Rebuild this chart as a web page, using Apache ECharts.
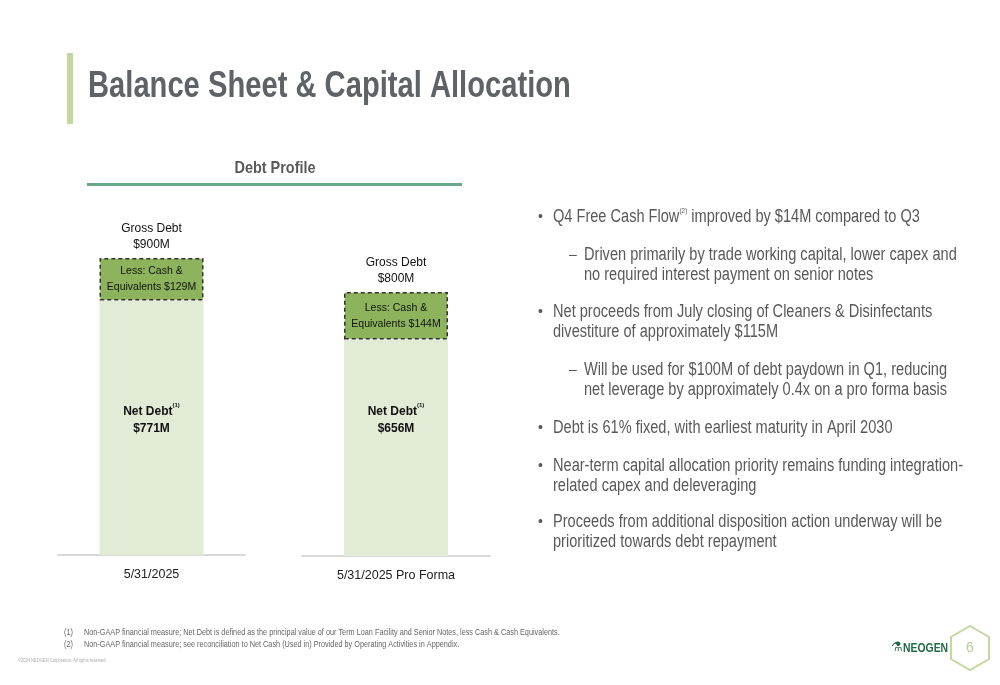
<!DOCTYPE html>
<html>
<head>
<meta charset="utf-8">
<script src="https://cdn.jsdelivr.net/npm/echarts@6/dist/echarts.min.js"></script>
<style>
html,body{margin:0;padding:0;background:#fff;}
#c{width:1000px;height:685px;}
</style>
</head>
<body>
<div id="c"></div>
<script>
var categories = ['5/31/2025', '5/31/2025 Pro Forma'];
var grossDebt = [900, 800];
var cashEquivalents = [129, 144];
var netDebt = [771, 656];

var FONT = "'Liberation Sans',Arial,sans-serif";
var TEXT = '#595959';
var SX = 0.81;

var chart = echarts.init(document.getElementById('c'), null, {renderer: 'canvas'});

function grid(i) {
  return i === 0
    ? {left: 58, width: 187, top: 225, height: 330}
    : {left: 302, width: 188, top: 226, height: 330};
}

var xAxes = [], yAxes = [], series = [];
categories.forEach(function (cat, i) {
  xAxes.push({
    type: 'category', gridIndex: i, data: [cat],
    axisLine: {show: true, lineStyle: {color: '#d9d9d9', width: 2}},
    axisTick: {show: false},
    axisLabel: {color: '#222', fontSize: 12.5, fontFamily: FONT, margin: 13}
  });
  yAxes.push({type: 'value', gridIndex: i, min: 0, max: 1000, show: false, splitLine: {show: false}});
  series.push({
    type: 'bar', xAxisIndex: i, yAxisIndex: i, stack: 's' + i, barWidth: 104,
    data: [netDebt[i]],
    itemStyle: {color: '#e2ebd6'},
    label: {
      show: true, position: 'inside', offset: [0, i === 0 ? -8 : -28], fontFamily: FONT,
      formatter: function () { return '{b|Net Debt}{s|(1)}\n{b|$' + netDebt[i] + 'M}'; },
      rich: {
        b: {fontSize: 12, fontWeight: 'bold', color: '#111', fontFamily: FONT, lineHeight: 17},
        s: {fontSize: 6, fontWeight: 'bold', color: '#111', fontFamily: FONT, verticalAlign: 'top', lineHeight: 17, padding: [0, 0, 6, 0]}
      }
    }
  });
  series.push({
    type: 'bar', xAxisIndex: i, yAxisIndex: i, stack: 's' + i, barWidth: 104,
    data: [cashEquivalents[i]],
    itemStyle: {color: '#8db35c', borderColor: '#333', borderWidth: 1.5, borderType: [4, 3]},
    label: {
      show: true, position: 'inside', fontSize: 10.5, lineHeight: 16, color: '#111', fontFamily: FONT,
      formatter: function () { return 'Less: Cash &\nEquivalents $' + cashEquivalents[i] + 'M'; }
    }
  });
  series.push({
    type: 'bar', xAxisIndex: i, yAxisIndex: i, stack: 's' + i, barWidth: 104,
    data: [0], itemStyle: {color: 'transparent'},
    label: {
      show: true, position: 'top', distance: 5, fontSize: 12, lineHeight: 16, color: '#111', fontFamily: FONT,
      formatter: function () { return 'Gross Debt\n$' + grossDebt[i] + 'M'; }
    }
  });
});

var bullets = [
  {x: 553, y: 217, bullet: '•', text: 'Q4 Free Cash Flow{s|(2)} improved by $14M compared to Q3'},
  {x: 584, y: 255, bullet: '–', text: 'Driven primarily by trade working capital, lower capex and\nno required interest payment on senior notes'},
  {x: 553, y: 312, bullet: '•', text: 'Net proceeds from July closing of Cleaners & Disinfectants\ndivestiture of approximately $115M'},
  {x: 584, y: 370, bullet: '–', text: 'Will be used for $100M of debt paydown in Q1, reducing\nnet leverage by approximately 0.4x on a pro forma basis'},
  {x: 553, y: 428, bullet: '•', text: 'Debt is 61% fixed, with earliest maturity in April 2030'},
  {x: 553, y: 466, bullet: '•', text: 'Near-term capital allocation priority remains funding integration-\nrelated capex and deleveraging'},
  {x: 553, y: 522, bullet: '•', text: 'Proceeds from additional disposition action underway will be\nprioritized towards debt repayment'}
];

var graphics = [
  {type: 'rect', shape: {x: 67, y: 53, width: 6, height: 71}, style: {fill: '#c3d89e'}},
  {type: 'text', x: 88, y: 87, scaleX: 0.81, style: {text: 'Balance Sheet & Capital Allocation', font: 'bold 36px ' + FONT, fill: '#5f6368', verticalAlign: 'middle'}},
  {type: 'text', x: 275, y: 168, scaleX: 0.85, style: {text: 'Debt Profile', font: 'bold 17px ' + FONT, fill: TEXT, align: 'center', verticalAlign: 'middle'}},
  {type: 'rect', shape: {x: 87, y: 183, width: 375, height: 3}, style: {fill: '#6aa88a'}},
  {type: 'text', x: 64, y: 633, scaleX: SX, style: {text: '(1)', font: '9px ' + FONT, fill: '#666', verticalAlign: 'middle'}},
  {type: 'text', x: 84, y: 633, scaleX: SX, style: {text: 'Non-GAAP financial measure; Net Debt is defined as the principal value of our Term Loan Facility and Senior Notes, less Cash & Cash Equivalents.', font: '9px ' + FONT, fill: '#666', verticalAlign: 'middle'}},
  {type: 'text', x: 64, y: 645, scaleX: SX, style: {text: '(2)', font: '9px ' + FONT, fill: '#666', verticalAlign: 'middle'}},
  {type: 'text', x: 84, y: 645, scaleX: SX, style: {text: 'Non-GAAP financial measure; see reconciliation to Net Cash (Used in) Provided by Operating Activities in Appendix.', font: '9px ' + FONT, fill: '#666', verticalAlign: 'middle'}},
  {type: 'text', x: 18, y: 661, scaleX: SX, style: {text: '©2024 NEOGEN Corporation. All rights reserved.', font: '5px ' + FONT, fill: '#aaa', verticalAlign: 'middle'}},
  {type: 'text', x: 903, y: 648, scaleX: 0.8, style: {text: 'NEOGEN', font: 'bold 13px ' + FONT, fill: '#1f6b45', verticalAlign: 'middle'}},
  {type: 'text', x: 903, y: 647, style: {text: '⚗', font: '13px ' + FONT, fill: '#1f6b45', align: 'right', verticalAlign: 'middle'}},
  {type: 'polygon', shape: {points: [[970, 626], [989, 637], [989, 659], [970, 670], [951, 659], [951, 637]]}, style: {fill: 'none', stroke: '#c3d89e', lineWidth: 2}},
  {type: 'text', x: 970, y: 648, style: {text: '6', font: '14px ' + FONT, fill: '#b5cf8f', align: 'center', verticalAlign: 'middle'}}
];

bullets.forEach(function (b) {
  graphics.push({type: 'text', x: b.x - 15, y: b.y, style: {text: b.bullet, font: '14px ' + FONT, fill: TEXT, verticalAlign: 'middle'}});
  graphics.push({type: 'text', x: b.x, y: b.y - 10, scaleX: SX, style: {
    text: b.text, font: '18px ' + FONT, fill: TEXT, lineHeight: 20,
    rich: {s: {fontSize: 8, fill: TEXT, verticalAlign: 'top', lineHeight: 20, fontFamily: FONT}}
  }});
});

chart.setOption({
  animation: false,
  backgroundColor: '#fff',
  textStyle: {fontFamily: FONT},
  grid: [grid(0), grid(1)],
  xAxis: xAxes,
  yAxis: yAxes,
  series: series,
  graphic: graphics
});
</script>
</body>
</html>
